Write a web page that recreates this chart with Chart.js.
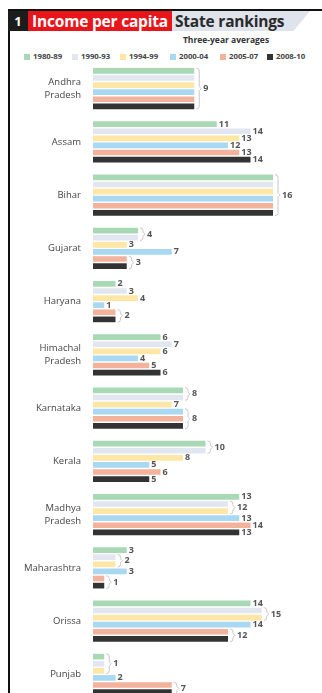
<!DOCTYPE html>
<html>
<head>
<meta charset="utf-8">
<script src="https://cdn.jsdelivr.net/npm/chart.js@4"></script>
<style>
  html, body { margin: 0; padding: 0; background: #fff; width: 322px; height: 693px; overflow: hidden; }
  body { position: relative; font-family: "Open Sans", "Liberation Sans", sans-serif; }
  #frameTop { position: absolute; left: 8px; top: 9px; width: 314px; height: 2px; background: #111; }
  #frameLeft { position: absolute; left: 8px; top: 9px; width: 2px; height: 700px; background: #111; }
  #num { position: absolute; left: 8px; top: 11px; width: 20px; height: 20px; background: #1c1c1c; color: #fff;
         font: bold 13px "Open Sans", sans-serif; line-height: 20px; text-align: center; }
  #red { position: absolute; left: 28px; top: 11px; width: 144px; height: 20px; background: #e8151b; color: #fff;
         font: bold 15.5px "Open Sans", sans-serif; line-height: 20px; text-align: center; letter-spacing: -0.2px; }
  #grey { position: absolute; left: 172px; top: 11px; width: 138px; height: 20px; background: #dfe3ec; color: #2a2a2a;
          font: bold 15.5px "Open Sans", sans-serif; line-height: 20px; padding-left: 3px; box-sizing: border-box;
          clip-path: polygon(0 0, 100% 0, 88% 100%, 0 100%); letter-spacing: -0.2px; }
  #sub { position: absolute; left: 170px; top: 34px; width: 112px; text-align: center; color: #333;
         font: bold 8.5px "Open Sans", sans-serif; }
  #legend { position: absolute; left: 24px; top: 50px; width: 298px; height: 12px; font: bold 7.8px "Open Sans", sans-serif; color: #444; }
  .li { position: absolute; top: 0; white-space: nowrap; line-height: 12px; }
  .sw { display: inline-block; width: 6px; height: 6px; margin-right: 3px; vertical-align: -0.5px; }
  #wrap { position: absolute; left: 0; top: 62px; width: 322px; height: 639px; }
</style>
</head>
<body>
<div id="frameTop"></div>
<div id="frameLeft"></div>
<div id="num">1</div>
<div id="red">Income per capita</div>
<div id="grey">State rankings</div>
<div id="sub">Three-year averages</div>
<div id="legend"></div>
<div id="wrap"><canvas id="c"></canvas></div>
<script>
// states (rows) and period labels
const states = [
  ['Andhra', 'Pradesh'], 'Assam', 'Bihar', 'Gujarat', 'Haryana', ['Himachal', 'Pradesh'],
  'Karnataka', 'Kerala', ['Madhya', 'Pradesh'], 'Maharashtra', 'Orissa', 'Punjab'
];
const periods = ['1980-89', '1990-93', '1994-99', '2000-04', '2005-07', '2008-10'];
const colors = ['#a9d9b4', '#e1e6f0', '#fde6a6', '#a9d8f2', '#f3b29c', '#333333'];

// rank of each state in each period
const r1980 = [9, 11, 16, 4, 2, 6, 8, 10, 13, 3, 14, 1];
const r1990 = [9, 14, 16, 4, 3, 7, 8, 10, 12, 2, 15, 1];
const r1994 = [9, 13, 16, 3, 4, 6, 7, 8, 12, 2, 15, 1];
const r2000 = [9, 12, 16, 7, 1, 4, 8, 5, 13, 3, 14, 2];
const r2005 = [9, 13, 16, 3, 2, 5, 8, 6, 14, 1, 12, 7];
const r2008 = [9, 14, 16, 3, 2, 6, 8, 5, 13, 1, 12, 7];
const series = [r1980, r1990, r1994, r2000, r2005, r2008];

// legend
const legendX = [0, 48, 96, 146, 196, 243];
const lg = document.getElementById('legend');
periods.forEach((p, i) => {
  const d = document.createElement('div');
  d.className = 'li';
  d.style.left = legendX[i] + 'px';
  d.innerHTML = '<span class="sw" style="background:' + colors[i] + '"></span>' + p;
  lg.appendChild(d);
});

// value labels, with a bracket for runs of equal ranks
const rankLabels = {
  id: 'rankLabels',
  afterDatasetsDraw(chart) {
    const ctx = chart.ctx;
    ctx.save();
    ctx.font = 'bold 9px "Open Sans", sans-serif';
    ctx.textBaseline = 'middle';
    ctx.textAlign = 'left';
    states.forEach((s, si) => {
      let k = 0;
      while (k < series.length) {
        let j = k;
        while (j + 1 < series.length && series[j + 1][si] === series[k][si]) j++;
        const first = chart.getDatasetMeta(k).data[si];
        const last = chart.getDatasetMeta(j).data[si];
        const xEnd = Math.max(first.x, last.x);
        ctx.fillStyle = '#555';
        if (j > k) {
          const top = first.y - first.height / 2;
          const bot = last.y + last.height / 2;
          const bx = xEnd + 2;
          ctx.strokeStyle = '#c8c8c8';
          ctx.lineWidth = 1;
          ctx.beginPath();
          ctx.moveTo(bx, top);
          ctx.quadraticCurveTo(bx + 3, top, bx + 3, top + 3);
          ctx.lineTo(bx + 3, (top + bot) / 2 - 2);
          ctx.lineTo(bx + 5, (top + bot) / 2);
          ctx.lineTo(bx + 3, (top + bot) / 2 + 2);
          ctx.lineTo(bx + 3, bot - 3);
          ctx.quadraticCurveTo(bx + 3, bot, bx, bot);
          ctx.stroke();
          ctx.fillText(String(series[k][si]), bx + 7, (top + bot) / 2);
        } else {
          ctx.fillText(String(series[k][si]), xEnd + 2, first.y);
        }
        k = j + 1;
      }
    });
    ctx.restore();
  }
};

new Chart(document.getElementById('c'), {
  type: 'bar',
  data: {
    labels: states,
    datasets: periods.map((p, i) => ({
      label: p,
      data: series[i],
      backgroundColor: colors[i],
      borderWidth: 0,
      categoryPercentage: 0.8,
      barPercentage: 0.8
    }))
  },
  options: {
    indexAxis: 'y',
    responsive: true,
    maintainAspectRatio: false,
    animation: false,
    layout: { padding: { left: 0, right: 49, top: 0, bottom: 0 } },
    plugins: { legend: { display: false }, tooltip: { enabled: false } },
    scales: {
      x: { display: false, min: 0, max: 16 },
      y: {
        grid: { display: false, drawTicks: false, tickLength: 0 },
        border: { display: false },
        afterFit(scale) {
          scale.width = 93;
          scale.paddingTop = 0;
          scale.paddingBottom = 0;
        },
        ticks: {
          padding: 12,
          color: '#444',
          font: { family: '"Open Sans", sans-serif', size: 9.5, lineHeight: 1.3 }
        }
      }
    }
  },
  plugins: [rankLabels]
});
</script>
</body>
</html>
